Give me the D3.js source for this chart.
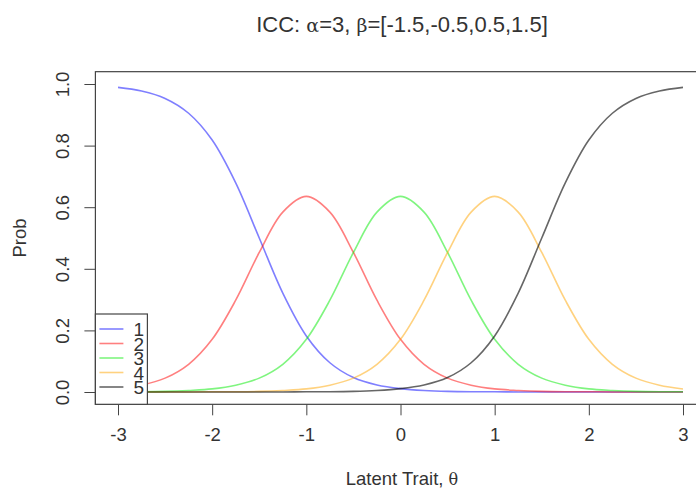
<!DOCTYPE html>
<html>
<head>
<meta charset="utf-8">
<script src="https://cdn.jsdelivr.net/npm/d3@7"></script>
<style>
  body { margin: 0; background: #fff; }
  svg text { font-family: "Liberation Sans", Arial, sans-serif; fill: #222; }
</style>
</head>
<body>
<svg width="696" height="491"></svg>
<script>
// theta grid and category probabilities
let theta = d3.range(25).map(i => -3 + i * 0.25);
let cat1 = [0.989,0.977,0.953,0.905,0.818,0.679,0.5,0.321,0.182,0.095,0.047,0.023,0.011,0.005,0.002,0.001,0.001,0,0,0,0,0,0,0,0];
let cat2 = [0.010,0.022,0.045,0.090,0.171,0.298,0.453,0.584,0.635,0.584,0.453,0.298,0.171,0.090,0.045,0.022,0.010,0.005,0.002,0.001,0.001,0,0,0,0];
let cat3 = [0.001,0.001,0.002,0.005,0.010,0.022,0.045,0.090,0.171,0.298,0.453,0.584,0.635,0.584,0.453,0.298,0.171,0.090,0.045,0.022,0.010,0.005,0.002,0.001,0.001];
let cat4 = [0,0,0,0,0.001,0.001,0.002,0.005,0.010,0.022,0.045,0.090,0.171,0.298,0.453,0.584,0.635,0.584,0.453,0.298,0.171,0.090,0.045,0.022,0.010];
let cat5 = [0,0,0,0,0,0,0,0,0.001,0.001,0.002,0.005,0.011,0.023,0.047,0.095,0.182,0.321,0.5,0.679,0.818,0.905,0.953,0.977,0.989];

let labels = ['1', '2', '3', '4', '5'];
let colors = ['rgba(0,0,255,0.5)', 'rgba(255,0,0,0.5)', 'rgba(0,235,0,0.5)', 'rgba(255,165,0,0.5)', 'rgba(0,0,0,0.6)'];
let series = [cat1, cat2, cat3, cat4, cat5];

let xTicks = [-3, -2, -1, 0, 1, 2, 3];
let yTicks = [0, 0.2, 0.4, 0.6, 0.8, 1.0];

let svg = d3.select('svg');

// data -> pixel, box is 4% wider than data range (R style)
let x = d3.scaleLinear().domain([-3, 3]).range([118, 683]);
let y = d3.scaleLinear().domain([0, 1]).range([392, 84]);

let boxL = x(-3.24), boxR = x(3.24), boxT = y(1.04), boxB = y(-0.04);

// curves
let line = d3.line()
  .x((d, i) => x(theta[i]))
  .y(d => y(d))
  .curve(d3.curveCatmullRom);

svg.append('g')
  .selectAll('path')
  .data(series)
  .enter()
  .append('path')
    .attr('fill', 'none')
    .attr('stroke', (d, i) => colors[i])
    .attr('stroke-width', 1.6)
    .attr('d', line);

// plot box
svg.append('rect')
  .attr('x', boxL).attr('y', boxT)
  .attr('width', boxR - boxL).attr('height', boxB - boxT)
  .attr('fill', 'none')
  .attr('stroke', '#444')
  .attr('stroke-width', 1.2);

// x axis (plain hyphen minus like R)
let xAxis = d3.axisBottom(x).tickValues(xTicks).tickSize(11).tickPadding(13)
  .tickFormat(d => String(d));
let gx = svg.append('g').attr('transform', `translate(0, ${boxB})`).call(xAxis);
gx.select('.domain').remove();
gx.selectAll('line').attr('stroke', '#444');
gx.selectAll('text').attr('font-size', 18.5).style('fill', '#333');

// y axis, labels rotated like R
let yAxis = d3.axisLeft(y).tickValues(yTicks).tickSize(11).tickFormat(d3.format('.1f'));
let gy = svg.append('g').attr('transform', `translate(${boxL}, 0)`).call(yAxis);
gy.select('.domain').remove();
gy.selectAll('line').attr('stroke', '#444');
gy.selectAll('text')
  .attr('font-size', 18.5)
  .attr('x', null).attr('dy', null)
  .attr('text-anchor', 'middle')
  .attr('transform', `translate(${69 - boxL}, 0) rotate(-90)`)
  .style('fill', '#333');

// titles
svg.append('text')
  .attr('x', 402).attr('y', 32)
  .attr('text-anchor', 'middle')
  .attr('font-size', 22)
  .style('fill', '#333')
  .html('ICC: <tspan font-family="DejaVu Serif" font-size="19">α</tspan>=3, <tspan font-family="DejaVu Serif" font-size="19">β</tspan>=[-1.5,-0.5,0.5,1.5]');

svg.append('text')
  .attr('x', 402).attr('y', 485)
  .attr('text-anchor', 'middle')
  .attr('font-size', 18.5)
  .style('fill', '#333')
  .html('Latent Trait, <tspan font-family="DejaVu Serif" font-size="16">θ</tspan>');

svg.append('text')
  .attr('transform', `translate(26, ${(boxT + boxB) / 2}) rotate(-90)`)
  .attr('text-anchor', 'middle')
  .attr('font-size', 18.5)
  .style('fill', '#333')
  .text('Prob');

// legend, bottom-left (labels overlap in the original too)
let legTop = 314;
let legend = svg.append('g');
legend.append('rect')
  .attr('x', boxL).attr('y', legTop)
  .attr('width', 52).attr('height', boxB - legTop)
  .attr('fill', '#fff')
  .attr('stroke', '#444')
  .attr('stroke-width', 1.2);

let ly = d3.scalePoint().domain(labels).range([329, 387]);
let items = legend.selectAll('.item')
  .data(labels)
  .enter()
  .append('g')
    .classed('item', true);
items.append('line')
  .attr('x1', boxL + 4).attr('x2', boxL + 28)
  .attr('y1', d => ly(d)).attr('y2', d => ly(d))
  .attr('stroke', (d, i) => colors[i])
  .attr('stroke-width', 1.6);
items.append('text')
  .attr('x', boxL + 38)
  .attr('y', d => ly(d) + 7)
  .attr('font-size', 19)
  .style('fill', '#333')
  .text(d => d);
</script>
</body>
</html>
